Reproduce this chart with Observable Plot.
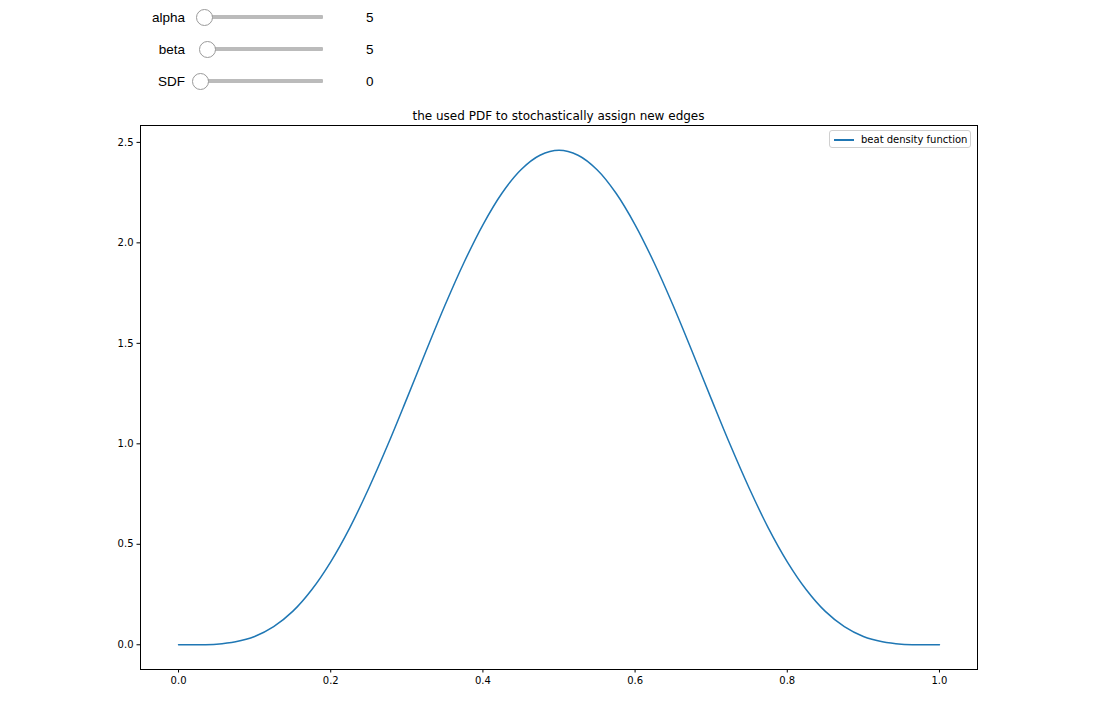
<!DOCTYPE html>
<html>
<head>
<meta charset="utf-8">
<script src="https://cdn.jsdelivr.net/npm/d3@7"></script>
<script src="https://cdn.jsdelivr.net/npm/@observablehq/plot@0.6"></script>
<style>
  html, body { margin: 0; padding: 0; background: #fff; }
  #wrap { position: relative; width: 1096px; height: 704px; overflow: hidden; }
  .lbl { position: absolute; font-family: "Liberation Sans", Arial, sans-serif; font-size: 13.5px; color: #000; text-align: right; width: 60px; }
  .track { position: absolute; height: 4px; background: #bbbbbb; border-radius: 1px; }
  .thumb { position: absolute; width: 17px; height: 17px; border-radius: 50%; border: 1px solid #9a9a9a; background: #fff; box-sizing: border-box; }
  .val { position: absolute; font-family: "Liberation Sans", Arial, sans-serif; font-size: 13.5px; color: #000; }
  #title { position: absolute; left: 140px; width: 837px; top: 109px; text-align: center; font-family: "DejaVu Sans", sans-serif; font-size: 12px; color: #000; }
  #legend { position: absolute; left: 829px; top: 130px; width: 142px; height: 18px; border: 1px solid #d0d0d0; border-radius: 3px; box-sizing: border-box; background: rgba(255,255,255,0.8); font-family: "DejaVu Sans", sans-serif; font-size: 10px; color: #000; }
  #legend .ln { position: absolute; left: 4px; top: 8px; width: 20px; height: 1.5px; background: #1f77b4; }
  #legend .tx { position: absolute; left: 31px; top: 3px; white-space: nowrap; }
  #chart { position: absolute; left: 0; top: 0; }
</style>
</head>
<body>
<div id="wrap">
  <div id="chart"></div>
  <div id="sliders"></div>
  <div id="title">the used PDF to stochastically assign new edges</div>
  <div id="legend"><div class="ln"></div><div class="tx">beat density function</div></div>
</div>
<script>
// Slider widgets
const sliderNames = ["alpha", "beta", "SDF"];
const sliderValues = [5, 5, 0];

// Curve points
const xs = [0.000, 0.025, 0.050, 0.075, 0.100, 0.125, 0.150, 0.175, 0.200, 0.225,
            0.250, 0.275, 0.300, 0.325, 0.350, 0.375, 0.400, 0.425, 0.450, 0.475,
            0.500, 0.525, 0.550, 0.575, 0.600, 0.625, 0.650, 0.675, 0.700, 0.725,
            0.750, 0.775, 0.800, 0.825, 0.850, 0.875, 0.900, 0.925, 0.950, 0.975, 1.000];
const ys = [0.000, 0.000, 0.003, 0.015, 0.041, 0.090, 0.166, 0.274, 0.413, 0.582,
            0.779, 0.995, 1.225, 1.459, 1.688, 1.901, 2.090, 2.247, 2.364, 2.436,
            2.461, 2.436, 2.364, 2.247, 2.090, 1.901, 1.688, 1.459, 1.225, 0.995,
            0.779, 0.582, 0.413, 0.274, 0.166, 0.090, 0.041, 0.015, 0.003, 0.000, 0.000];
const xTicks = [0.0, 0.2, 0.4, 0.6, 0.8, 1.0];
const yTicks = [0.0, 0.5, 1.0, 1.5, 2.0, 2.5];
const seriesName = "beat density function";

// sliders (HTML widgets)
const sl = document.getElementById("sliders");
const rowY = [17, 49, 81];
const thumbX = [204, 207, 200];
sliderNames.forEach((n, i) => {
  const y = rowY[i];
  const l = document.createElement("div");
  l.className = "lbl"; l.textContent = n;
  l.style.left = "125px"; l.style.top = (y - 7) + "px";
  sl.appendChild(l);
  const t = document.createElement("div");
  t.className = "track";
  t.style.left = thumbX[i] + "px"; t.style.width = (323 - thumbX[i]) + "px"; t.style.top = (y - 2) + "px";
  sl.appendChild(t);
  const th = document.createElement("div");
  th.className = "thumb";
  th.style.left = (thumbX[i] - 8.5) + "px"; th.style.top = (y - 8.5) + "px";
  sl.appendChild(th);
  const v = document.createElement("div");
  v.className = "val"; v.textContent = String(sliderValues[i]);
  v.style.left = "366px"; v.style.top = (y - 7) + "px";
  sl.appendChild(v);
});

const data = xs.map((x, i) => ({x, y: ys[i]}));

const chart = Plot.plot({
  width: 1096,
  height: 704,
  marginLeft: 140,
  marginRight: 119,
  marginTop: 125,
  marginBottom: 35,
  style: {fontFamily: "DejaVu Sans, sans-serif", fontSize: "10px", color: "#000", background: "transparent"},
  x: {domain: [-0.05, 1.05], ticks: xTicks, tickFormat: d3.format(".1f"), tickSize: 3.5, tickPadding: 3.5, label: null},
  y: {domain: [-0.12305, 2.58399], ticks: yTicks, tickFormat: d3.format(".1f"), tickSize: 3.5, tickPadding: 3.5, label: null},
  marks: [
    Plot.line(data, {x: "x", y: "y", stroke: "#1f77b4", strokeWidth: 1.5, curve: "catmull-rom"}),
    Plot.frame({stroke: "#000", strokeWidth: 1}),
    Plot.axisX({ticks: xTicks, tickFormat: d3.format(".1f"), tickSize: 3.5, tickPadding: 3.5, label: null, stroke: "#000", fill: "#000"}),
    Plot.axisY({ticks: yTicks, tickFormat: d3.format(".1f"), tickSize: 3.5, tickPadding: 3.5, label: null, stroke: "#000", fill: "#000"})
  ]
});
document.getElementById("chart").appendChild(chart);
</script>
</body>
</html>
